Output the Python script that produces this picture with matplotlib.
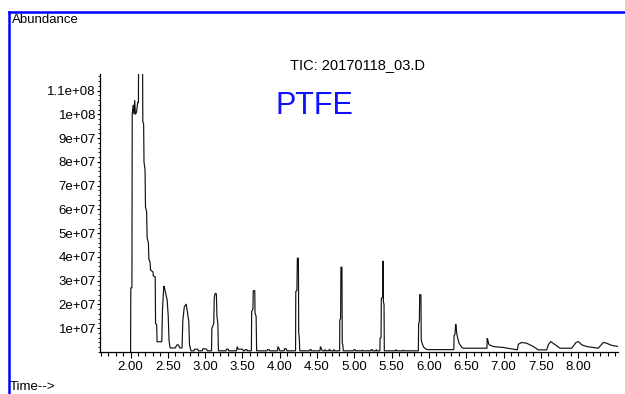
import matplotlib
matplotlib.use("Agg")
import matplotlib.pyplot as plt
from matplotlib.lines import Line2D
from matplotlib.ticker import MultipleLocator, FixedLocator

# ---- data (time in min, abundance in units of 1e7) ----
time_min = [
    # main peak
    2.000, 2.003, 2.018, 2.022, 2.035, 2.045, 2.055, 2.065, 2.080, 2.095, 2.105,
    2.108, 2.160, 2.164, 2.175, 2.180, 2.194, 2.200, 2.215, 2.222, 2.239, 2.245,
    2.261, 2.268, 2.300, 2.305, 2.330, 2.335, 2.350, 2.355,
    # peak 2.45
    2.418, 2.428, 2.445, 2.455, 2.470, 2.490, 2.505, 2.515, 2.530, 2.600, 2.620,
    2.640, 2.660,
    # peak 2.75
    2.690, 2.700, 2.720, 2.745, 2.765, 2.780, 2.790, 2.810,
    2.850, 2.860, 2.900, 2.910, 2.960, 2.970, 3.020, 3.030,
    # peak 3.13
    3.085, 3.090, 3.115, 3.122, 3.135, 3.150, 3.158, 3.170, 3.178,
    3.280, 3.285, 3.310, 3.315, 3.420, 3.430, 3.440, 3.500, 3.510, 3.530, 3.535,
    3.560, 3.565,
    # peak 3.65
    3.620, 3.623, 3.640, 3.645, 3.665, 3.668, 3.683, 3.690,
    3.830, 3.835, 3.860, 3.865, 3.970, 3.975, 3.990, 4.000, 4.060, 4.065, 4.090,
    4.095,
    # peak 4.25
    4.212, 4.215, 4.230, 4.236, 4.250, 4.254, 4.262, 4.268,
    4.400, 4.405, 4.420, 4.425, 4.540, 4.545, 4.560, 4.570, 4.600, 4.605, 4.620,
    4.660, 4.665, 4.680, 4.720, 4.725, 4.735,
    # peak 4.83
    4.803, 4.805, 4.816, 4.820, 4.834, 4.838, 4.846, 4.851,
    4.990, 4.995, 5.010, 5.015, 5.100, 5.105, 5.120, 5.220, 5.225, 5.240, 5.245,
    5.290, 5.295, 5.300,
    # peak 5.38
    5.343, 5.345, 5.358, 5.362, 5.378, 5.382, 5.387, 5.390, 5.398, 5.402,
    5.550, 5.555, 5.570, 5.650, 5.655, 5.670,
    # peak 5.89
    5.858, 5.862, 5.872, 5.876, 5.893, 5.897, 5.910, 5.930, 5.960, 5.990,
    6.320,
    # peak 6.36
    6.334, 6.337, 6.350, 6.358, 6.365, 6.372, 6.385, 6.403, 6.440, 6.460, 6.775,
    # peak 6.78 and later humps
    6.778, 6.781, 6.790, 6.800, 6.810, 6.863, 6.997, 7.130, 7.185,
    7.200, 7.244, 7.310, 7.400, 7.467, 7.580, 7.600, 7.633, 7.677, 7.757, 7.914,
    7.972, 8.003, 8.050, 8.115, 8.270, 8.338, 8.374, 8.450, 8.540,
]
abundance_e7 = [
    # main peak
    0.00, 2.70, 2.70, 10.0, 10.4, 10.0, 10.6, 10.0, 10.1, 10.5, 10.5,
    13.0, 13.0, 9.70, 9.60, 8.00, 7.66, 6.10, 5.90, 4.80, 4.59, 3.90,
    3.79, 3.45, 3.37, 3.20, 3.16, 1.20, 1.14, 0.43,
    # peak 2.45
    0.43, 1.80, 2.78, 2.70, 2.47, 2.20, 1.50, 0.50, 0.17, 0.17, 0.30,
    0.30, 0.17,
    # peak 2.75
    0.17, 1.30, 1.90, 2.02, 1.60, 1.30, 0.30, 0.05,
    0.05, 0.12, 0.12, 0.05, 0.05, 0.14, 0.12, 0.05,
    # peak 3.13
    0.05, 1.00, 1.20, 2.30, 2.47, 2.45, 1.50, 1.20, 0.05,
    0.05, 0.12, 0.12, 0.05, 0.05, 0.23, 0.12, 0.12, 0.05, 0.05, 0.10,
    0.10, 0.05,
    # peak 3.65
    0.05, 1.70, 1.80, 2.58, 2.58, 1.65, 1.50, 0.05,
    0.05, 0.10, 0.10, 0.05, 0.05, 0.23, 0.15, 0.05, 0.05, 0.15, 0.12,
    0.05,
    # peak 4.25
    0.05, 2.54, 2.60, 3.95, 3.95, 0.80, 0.60, 0.05,
    0.05, 0.10, 0.10, 0.05, 0.05, 0.23, 0.12, 0.05, 0.05, 0.10, 0.05,
    0.05, 0.12, 0.05, 0.05, 0.10, 0.05,
    # peak 4.83
    0.05, 1.35, 1.40, 3.57, 3.57, 0.38, 0.30, 0.05,
    0.05, 0.10, 0.10, 0.05, 0.05, 0.08, 0.05, 0.05, 0.10, 0.10, 0.05,
    0.05, 0.10, 0.05,
    # peak 5.38
    0.05, 0.58, 0.60, 2.26, 2.30, 3.82, 3.82, 2.12, 2.00, 0.05,
    0.05, 0.10, 0.05, 0.05, 0.08, 0.05,
    # peak 5.89
    0.05, 1.20, 1.30, 2.42, 2.40, 0.50, 0.35, 0.20, 0.12, 0.10,
    0.10,
    # peak 6.36
    0.10, 0.68, 0.75, 1.18, 1.10, 0.79, 0.60, 0.37, 0.20, 0.16, 0.16,
    # peak 6.78 and later humps
    0.16, 0.58, 0.50, 0.35, 0.30, 0.23, 0.19, 0.12, 0.09,
    0.33, 0.40, 0.37, 0.23, 0.09, 0.09, 0.30, 0.44, 0.34, 0.16, 0.16,
    0.40, 0.44, 0.30, 0.23, 0.16, 0.40, 0.38, 0.28, 0.23,
]
abundance = [v * 1e7 for v in abundance_e7]

x_major_ticks = [2.0, 2.5, 3.0, 3.5, 4.0, 4.5, 5.0, 5.5, 6.0, 6.5, 7.0, 7.5, 8.0]
x_tick_labels = ["2.00", "2.50", "3.00", "3.50", "4.00", "4.50", "5.00",
                 "5.50", "6.00", "6.50", "7.00", "7.50", "8.00"]
y_major_ticks = [1e7, 2e7, 3e7, 4e7, 5e7, 6e7, 7e7, 8e7, 9e7, 1e8, 1.1e8]
y_tick_labels = ["1e+07", "2e+07", "3e+07", "4e+07", "5e+07", "6e+07",
                 "7e+07", "8e+07", "9e+07", "1e+08", "1.1e+08"]

plt.rcParams['font.family'] = ['Liberation Sans', 'DejaVu Sans']

W, H = 625, 394
fig = plt.figure(figsize=(W / 100, H / 100), dpi=100)
fig.patch.set_facecolor('white')

ax = fig.add_axes([100 / W, 1 - 352 / H, (618 - 100) / W, (352 - 74) / H])
ax.plot(time_min, abundance, color='#111111', lw=0.85, solid_joinstyle='miter')

ax.set_xlim(1.59, 8.535)
ax.set_ylim(0, 1.17e8)

for s in ['top', 'right']:
    ax.spines[s].set_visible(False)
for s in ['left', 'bottom']:
    ax.spines[s].set_linewidth(0.9)
    ax.spines[s].set_color('black')

ax.xaxis.set_major_locator(FixedLocator(x_major_ticks))
ax.set_xticklabels(x_tick_labels)
ax.xaxis.set_minor_locator(MultipleLocator(0.1))
ax.yaxis.set_major_locator(FixedLocator(y_major_ticks))
ax.set_yticklabels(y_tick_labels)
ax.yaxis.set_minor_locator(MultipleLocator(2e6))

ax.tick_params(axis='x', which='major', direction='out', length=4.5, width=0.8,
               labelsize=9.5, pad=2, colors='black')
ax.tick_params(axis='x', which='minor', direction='out', length=3, width=0.8)
ax.tick_params(axis='y', which='major', direction='out', length=2.5, width=0.8,
               labelsize=9.5, pad=0.5, colors='black')
ax.tick_params(axis='y', which='minor', direction='out', length=1.5, width=0.6)

# texts
fig.text(12 / W, 1 - 20 / H, "Abundance", fontsize=9.5, ha='left', va='center')
fig.text(357 / W, 1 - 65 / H, "TIC: 20170118_03.D", fontsize=10.5,
         ha='center', va='center')
fig.text(314 / W, 1 - 106 / H, "PTFE", fontsize=22, color='#1010ff',
         ha='center', va='center')
fig.text(10 / W, 1 - 387 / H, "Time-->", fontsize=9.5, ha='left', va='center')

# blue frame (top and left edges)
fig.add_artist(Line2D([8.5 / W, 1.0], [1 - 11.5 / H, 1 - 11.5 / H],
                      transform=fig.transFigure, color='#0000ff', lw=1.8))
fig.add_artist(Line2D([8.5 / W, 8.5 / W], [0.0, 1 - 11.5 / H],
                      transform=fig.transFigure, color='#0000ff', lw=1.8))

fig.savefig("out.png", dpi=100)
